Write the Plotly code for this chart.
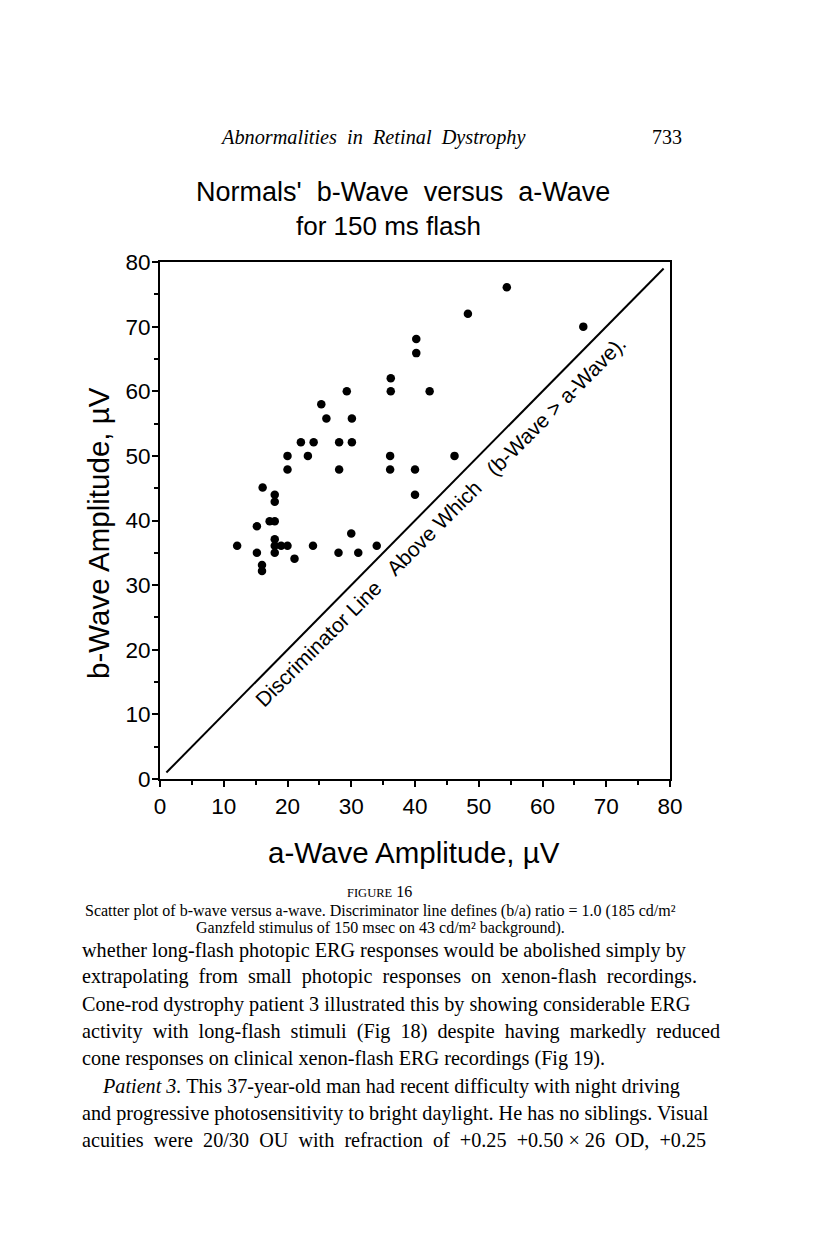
import plotly.graph_objects as go

# a-wave (x) and b-wave (y) amplitudes, µV
a_wave = [36.2, 36.2, 29.3, 25.3, 26.1, 30.1, 22.1, 24.1, 28.1, 30.1,
          20.0, 23.2, 36.1, 20.0, 28.1, 36.1, 40.0, 16.1, 18.0, 18.0,
          40.0, 17.2, 18.0, 15.2, 30.0, 18.0, 12.1, 18.0, 19.0, 20.0,
          24.0, 34.0, 15.2, 18.0, 28.0, 31.1, 21.1, 16.0, 16.0,
          54.4, 48.3, 66.4, 40.2, 40.2, 42.3, 46.2]
b_wave = [62.0, 60.0, 60.0, 58.0, 55.8, 55.8, 52.1, 52.1, 52.1, 52.1,
          50.0, 50.0, 50.0, 47.9, 47.9, 47.9, 47.9, 45.1, 44.0, 42.9,
          44.0, 39.9, 39.9, 39.1, 38.0, 37.1, 36.1, 36.1, 36.1, 36.1,
          36.1, 36.1, 35.0, 35.0, 35.0, 35.0, 34.1, 33.1, 32.2,
          76.1, 72.0, 70.0, 68.1, 65.9, 60.0, 50.0]

line_x = [1, 79]
line_y = [1, 79]

tick_vals = [0, 10, 20, 30, 40, 50, 60, 70, 80]
tick_text = ["0", "10", "20", "30", "40", "50", "60", "70", "80"]

SANS = "Liberation Sans, Arial, Helvetica, sans-serif"
SERIF = "Liberation Serif, Times New Roman, serif"

fig = go.Figure()
fig.add_trace(go.Scatter(x=line_x, y=line_y, mode="lines",
                         line=dict(color="black", width=2), hoverinfo="skip"))
fig.add_trace(go.Scatter(x=a_wave, y=b_wave, mode="markers",
                         marker=dict(color="black", size=8.5)))

axis_common = dict(range=[0, 80], tickvals=tick_vals, ticktext=tick_text,
                   showgrid=False, zeroline=False, showline=True,
                   linecolor="black", linewidth=2, mirror=True,
                   ticks="outside", ticklen=6, tickwidth=2, tickcolor="black",
                   minor=dict(dtick=5, ticks="outside", ticklen=4, tickwidth=1.5,
                              tickcolor="black", showgrid=False),
                   tickfont=dict(family=SANS, size=22.5, color="black"))

fig.update_xaxes(**axis_common)
fig.update_yaxes(**axis_common, ticklabelstandoff=-3)

W, H = 816, 1246
L, R, T, B = 160, 670, 262, 779

def px(x):
    return (x - L) / (R - L)

def py(y):
    return (B - y) / (B - T)

ann = []
def add(text, x, y, size, family, xanchor="center", yanchor="middle", angle=0):
    ann.append(dict(text=text, x=px(x), y=py(y), xref="paper", yref="paper",
                    showarrow=False, xanchor=xanchor, yanchor=yanchor,
                    textangle=angle, font=dict(size=size, family=family, color="black")))

add("<i>Abnormalities  in  Retinal  Dystrophy</i>", 373, 137, 20.3, SERIF)
add("733", 667, 137, 20, SERIF)
add("Normals'  b-Wave  versus  a-Wave", 403, 192, 27, SANS)
add("for 150 ms flash", 388, 226, 26, SANS)
add("a-Wave Amplitude, µV", 414, 852, 29.5, SANS)
add("b-Wave Amplitude, µV", 98, 533, 29.5, SANS, angle=-90)
add("<span style='font-size:12.5px'>FIGURE</span> 16", 379, 892, 16, SERIF)
add("Scatter plot of b-wave versus a-wave. Discriminator line defines (b/a) ratio = 1.0 (185 cd/m²",
    380, 910.5, 16, SERIF)
add("Ganzfeld stimulus of 150 msec on 43 cd/m² background).", 380, 928, 16, SERIF)

body = [
    ("whether long-flash photopic ERG responses would be abolished simply by", 80, 950),
    ("extrapolating  from  small  photopic  responses  on  xenon-flash  recordings.", 80, 977),
    ("Cone-rod dystrophy patient 3 illustrated this by showing considerable ERG", 80, 1004),
    ("activity  with  long-flash  stimuli  (Fig  18)  despite  having  markedly  reduced", 80, 1031),
    ("cone responses on clinical xenon-flash ERG recordings (Fig 19).", 80, 1058),
    ("<i>Patient 3.</i> This 37-year-old man had recent difficulty with night driving", 100, 1086),
    ("and progressive photosensitivity to bright daylight. He has no siblings. Visual", 80, 1113),
    ("acuities  were  20/30  OU  with  refraction  of  +0.25  +0.50 × 26  OD,  +0.25", 80, 1140),
]
for t, x, y in body:
    add(t, x, y, 20.2, SERIF, xanchor="left")

# discriminator label along the line (data coordinates)
ann.append(dict(text="Discriminator Line\u00a0\u00a0\u00a0Above Which\u00a0\u00a0\u00a0(b-Wave > a-Wave).",
                x=44.0, y=39.8, xref="x", yref="y", showarrow=False,
                textangle=-45, font=dict(size=21, family=SANS, color="black")))

fig.update_layout(width=W, height=H, showlegend=False,
                  paper_bgcolor="white", plot_bgcolor="white",
                  margin=dict(l=L, r=W - R, t=T, b=H - B),
                  annotations=ann)

fig.write_html("out.html", config={"displayModeBar": False},
               post_script="document.body.style.margin='0';document.body.style.overflow='hidden';")
